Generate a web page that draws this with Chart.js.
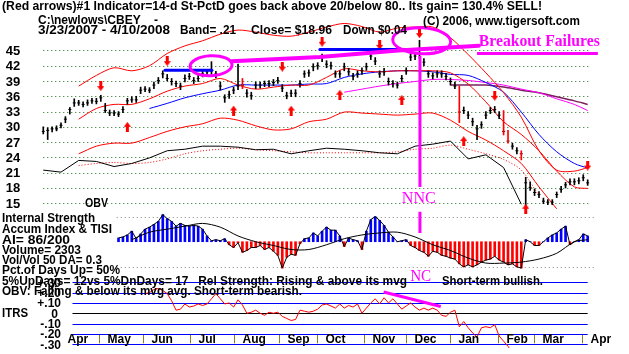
<!DOCTYPE html>
<html>
<head>
<meta charset="utf-8">
<script src="https://cdn.jsdelivr.net/npm/chart.js@4.4.1/dist/chart.umd.min.js"></script>
<style>
  html, body { margin: 0; padding: 0; background: #fff; }
  #wrap { position: relative; width: 629px; height: 354px; }
</style>
</head>
<body>
<div id="wrap"><canvas id="c" width="629" height="354"></canvas></div>
<script>
// ---- CBEY 3/23/2007 - 4/10/2008, one sample every ~2 trading days ----
var closes = [29.1,29.3,29.6,29.6,30.3,31.5,33.4,34.7,34.7,34.4,
              34.7,35.1,35.0,35.7,33.2,32.7,32.7,32.5,33.4,35.1,
              35.3,35.3,37.2,37.4,37.2,38.2,39.1,40.4,39.5,38.9,
              38.5,38.0,39.5,39.9,39.1,39.5,40.4,40.8,41.0,40.4,
              38.0,35.7,36.3,37.2,38.0,38.2,36.6,36.1,38.2,38.2,
              38.5,38.5,38.7,39.1,37.6,36.1,36.6,36.6,38.5,40.4,
              40.6,41.8,42.0,43.7,42.3,42.0,40.4,40.4,41.8,40.8,
              39.9,40.4,41.0,41.8,43.9,42.9,40.4,40.8,38.9,38.5,
              38.2,39.5,41.0,43.7,43.9,44.2,42.7,40.4,40.0,40.4,
              40.4,39.9,38.9,38.0,32.9,33.2,32.3,31.0,29.6,30.4,
              32.3,33.2,33.4,32.3,29.1,27.2,26.2,25.3,24.7,19.0,
              18.1,17.1,16.7,15.4,15.2,15.2,16.7,17.7,18.6,19.2,
              19.2,19.4,20.0,19.0];
var lows = [28.6,27.5,29.0,29.2,29.8,30.8,32.5,34.0,34.2,33.9,
            34.2,34.6,34.5,35.0,32.8,32.2,32.2,32.0,32.8,34.4,
            34.8,34.8,36.5,36.9,36.7,37.5,38.5,39.6,39.0,38.2,
            37.9,37.3,38.8,39.3,38.5,38.9,39.8,40.2,40.3,39.6,
            37.2,34.8,35.6,36.5,37.3,37.5,35.8,35.4,37.5,37.6,
            37.9,37.9,38.1,38.5,36.9,35.5,35.9,35.9,37.8,39.7,
            39.9,41.0,41.3,42.8,41.6,41.3,39.7,39.7,41.0,40.1,
            39.2,39.7,40.3,41.1,43.2,42.2,39.7,40.1,38.2,37.8,
            37.6,38.8,40.3,43.0,43.2,43.5,42.0,39.7,39.4,39.7,
            39.7,39.2,38.2,37.5,30.8,32.6,31.6,30.2,27.5,29.7,
            31.6,32.6,32.8,31.6,28.4,26.8,25.6,24.7,23.5,13.9,
            17.5,16.5,16.1,14.9,14.7,14.7,16.1,17.1,18.0,18.6,
            18.6,18.8,19.4,18.5];
var highs = [30.0,29.8,30.0,30.2,30.8,32.0,33.8,35.5,35.2,34.9,
             35.3,35.6,35.6,36.2,34.6,33.3,33.2,33.0,34.0,35.6,
             35.9,36.0,37.8,37.9,37.7,38.8,39.7,41.0,40.3,39.5,
             39.0,38.6,40.2,40.5,39.7,40.1,41.0,41.3,42.8,40.9,
             38.8,36.3,37.0,37.8,42.3,39.5,37.3,36.8,38.8,38.8,
             39.0,39.1,39.3,39.7,38.3,36.8,37.2,37.3,39.1,41.0,
             41.2,42.4,42.6,44.3,43.0,42.7,41.0,41.0,42.5,41.5,
             40.5,41.0,41.6,42.5,44.6,43.6,41.0,41.5,39.6,39.1,
             38.8,40.1,41.6,44.4,44.6,47.0,43.4,41.0,40.6,41.0,
             41.0,40.5,39.6,38.8,38.0,33.9,33.0,31.7,30.3,31.0,
             33.0,33.8,34.0,33.0,33.2,29.3,26.8,25.9,25.3,20.1,
             19.2,17.8,17.3,16.0,15.7,15.7,17.2,18.3,19.1,19.8,
             19.8,20.0,20.6,19.6];
var redBars = [45, 94, 104, 105, 108];

// sample positions where the smooth lines were read
var knots = [0,4,8,12,16,20,24,28,32,36,40,44,48,52,56,60,64,68,72,76,80,84,88,92,96,100,104,108,112,116,120,123];
var upperBand = [null,null,38.0,40.1,41.6,41.0,42.0,44.4,45.9,46.9,48.2,49.0,48.6,48.0,47.8,48.6,
                 49.6,50.3,49.7,48.6,49.4,49.6,49.6,47.5,44.2,40.6,36.7,31.9,25.3,21.5,21.3,22.0];
var midBand = [null,null,31.5,33.6,34.4,34.4,35.5,37.0,38.0,38.5,39.5,38.2,37.4,37.8,38.2,38.2,
               39.7,41.4,41.0,40.8,41.0,41.0,41.0,40.6,38.4,34.9,31.0,28.5,25.3,21.3,18.2,17.9];
var lowerBand = [null,null,24.7,26.2,26.8,26.8,27.9,29.1,30.0,30.6,31.7,31.3,30.2,29.4,29.6,31.0,
                 31.5,32.9,32.7,32.5,32.3,32.5,32.7,31.3,29.1,27.4,25.3,22.8,18.2,13.9,null,null];
var ma50 = [null,null,null,null,null,null,33.6,34.6,35.7,36.5,37.2,38.2,38.2,38.2,38.2,38.4,
            38.5,39.7,40.4,40.8,41.0,41.0,40.8,40.3,40.1,38.7,36.8,32.9,28.5,25.1,22.8,21.9];
var ma200 = [null,null,null,null,null,null,null,null,null,null,null,null,null,null,null,null,
             null,36.8,37.4,38.0,38.5,38.9,39.3,39.3,39.1,38.7,38.2,37.4,36.7,35.5,34.4,33.2];
var ma65 = [null,null,null,null,null,null,null,null,null,null,null,null,null,null,null,null,
            null,null,null,null,null,null,null,38.2,38.2,38.2,37.8,37.2,36.7,35.9,35.1,34.4];
var obv = [21.5,21.1,23.4,23.2,22.2,22.8,23.9,25.3,25.6,26.2,26.2,26.0,25.5,25.6,24.7,25.3,
           25.8,25.6,25.3,24.9,24.7,26.2,26.6,27.2,23.7,24.5,22.0,14.8,null,null,null,null];
var obvMa = [null,null,22.4,22.8,23.0,22.8,23.0,23.7,24.7,25.3,25.6,25.8,25.5,25.3,25.1,24.9,
             24.9,24.9,24.9,24.9,25.1,25.6,25.8,26.4,25.6,24.7,23.6,21.5,16.5,null,null,null];

// Accumulation index per sample, and its moving average at the knots
var accum = [null,null,null,null,null,null,null,null,null,null,null,null,null,null,null,null,null,
             1.5,1.9,2.7,4.2,1.2,3.1,5.0,5.8,6.9,8.1,10.8,9.2,8.1,6.2,7.3,6.5,6.2,6.5,6.2,5.0,
             2.3,0.4,0.8,0.4,1.2,-1.2,-2.3,-0.4,-4.2,-3.5,-2.3,-2.3,-1.5,-3.1,-2.3,-3.8,-5.4,-10.5,
             -6.2,-5.0,-5.4,-0.8,1.2,1.5,3.5,2.3,4.2,5.8,4.6,4.6,2.3,-1.9,1.5,0.8,0.4,-3.1,4.2,8.8,
             10.0,8.5,6.5,3.8,1.9,0.0,0.4,0.8,-1.5,-2.3,-3.5,-4.2,-5.8,-3.8,-4.2,-5.4,-5.8,-6.5,
             -6.9,-8.8,-10.0,-9.2,-10.0,-9.2,-8.1,-7.3,-6.9,-5.8,-7.3,-8.1,-9.2,-8.8,-10.0,-10.5,
             0.8,0.0,-1.5,-1.5,0.0,1.5,2.7,3.5,5.0,6.2,-1.2,0.0,0.8,3.1,2.3];
var accumMa = [null,null,null,null,null,0.8,3.8,5.0,6.2,7.3,5.8,2.3,0.0,-1.5,-3.1,-3.1,
               -1.2,1.2,2.7,3.5,3.8,1.9,-1.2,-3.5,-6.5,-8.5,-8.5,-8.1,-6.9,-4.6,0.0,0.8];

// ITRS (relative strength) per sample
var itrs = [null,null,null,null,null,null,null,null,null,null,null,null,null,null,null,null,
            null,null,null,null,null,null,null,
            0.19,0.20,0.23,0.24,0.22,0.19,0.12,0.03,0.04,0.09,
            0.06,0.07,0.09,0.075,0.09,0.14,0.19,0.14,0.09,0.10,
            0.06,0.13,0.08,0.0,0.01,0.03,0.0,-0.02,0.01,0.0,
            0.01,-0.03,-0.05,-0.07,-0.06,0.03,0.02,0.01,0.02,0.04,
            0.08,0.09,0.07,0.05,0.09,0.05,0.075,0.06,0.09,0.0,
            0.05,0.10,0.14,0.09,0.15,0.10,0.14,0.09,0.04,0.07,
            0.10,0.06,0.03,0.05,0.03,0.05,0.03,-0.02,-0.03,0.01,
            0.03,-0.13,-0.08,-0.14,-0.19,-0.23,-0.14,-0.13,-0.14,-0.11,
            -0.22,-0.27,-0.32,-0.38];

// signal arrows (sample, price)
var sellIdx = [13, 28, 54, 63, 76, 85, 102, 123];
var sellAt  = [38.0, 42.9, 41.8, 46.7, 46.1, 48.4, 36.1, 22.4];
var buyIdx  = [19, 43, 56, 67, 81, 95, 109];
var buyAt   = [30.0, 33.2, 33.2, 36.3, 35.3, 27.2, 13.9];

var priceTicks = [45, 42, 39, 36, 33, 30, 27, 24, 21, 18, 15];
var accumGrid = [10, -10];
var itrsTicks = [0.3, 0.2, 0.1, 0, -0.1, -0.2, -0.3];
var itrsLabels = ['+.30', '+.20', '+.10', '0', '-.10', '-.20', '-.30'];
var months = ['Apr','May','Jun','Jul','Aug','Sep','Oct','Nov','Dec','Jan','Feb','Mar','Apr'];
var monthStart = [2.7, 12.6, 22.6, 33.2, 43.2, 53.2, 61.8, 72.5, 82.0, 91.8, 102.8, 110.8, 121.7];

var infoLines = [
  'Internal Strength',
  'Accum Index & TISI',
  'AI= 86/200',
  'Volume= 2303',
  'Vol/Vol 50 DA= 0.3',
  'Pct.of Days Up= 50%',
  '5%UpDays= 12vs 5%DnDays= 17   Rel Strength: Rising & above its mvg',
  'OBV: Falling & below its mvg avg. Short-term bearish.'
];

function knotPts(arr) {
  return knots.map(function (k, j) { return { x: k, y: arr[j] }; });
}
function seriesPts(arr) {
  return arr.map(function (v, i) { return { x: i, y: v }; });
}

function arrowImg(up) {
  var c = document.createElement('canvas');
  c.width = 7; c.height = 10;
  var g = c.getContext('2d');
  g.fillStyle = '#ff0000';
  g.beginPath();
  if (up) {
    g.moveTo(3.5, 0); g.lineTo(7, 5); g.lineTo(0, 5);
    g.closePath(); g.fill(); g.fillRect(2, 4, 3, 6);
  } else {
    g.fillRect(2, 0, 3, 6);
    g.moveTo(0, 5); g.lineTo(7, 5); g.lineTo(3.5, 10);
    g.closePath(); g.fill();
  }
  return c;
}

function fitText(ctx, txt, x, y, w, font, color) {
  ctx.font = font;
  ctx.fillStyle = color || '#000';
  ctx.textAlign = 'left';
  ctx.textBaseline = 'middle';
  var m = ctx.measureText(txt).width;
  ctx.save();
  ctx.translate(x, y);
  ctx.scale(w / m, 1);
  ctx.fillText(txt, 0, 0);
  ctx.restore();
}

function hline(ctx, x1, x2, y) {
  ctx.beginPath(); ctx.moveTo(x1, y); ctx.lineTo(x2, y); ctx.stroke();
}

var BOLD = 'bold 12px "Liberation Sans", Arial, sans-serif';
var SERIF = 'bold 16px "Liberation Serif", "Times New Roman", serif';

var tiger = {
  id: 'tiger',
  beforeDraw: function (chart) {
    var ctx = chart.ctx;
    ctx.save();
    ctx.fillStyle = '#fff';
    ctx.fillRect(0, 0, chart.width, chart.height);
    ctx.restore();
  },
  beforeDatasetsDraw: function (chart) {
    var ctx = chart.ctx, s = chart.scales;
    ctx.save();
    ctx.lineWidth = 1;
    ctx.setLineDash([1, 3]);
    ctx.strokeStyle = '#1e6b1e';
    priceTicks.forEach(function (v) {
      var y = Math.round(s.y.getPixelForValue(v)) + 0.5;
      hline(ctx, s.x.getPixelForValue(0), s.x.getPixelForValue(123.5), y);
    });
    ctx.strokeStyle = '#8a8a8a';
    accumGrid.forEach(function (v) {
      var y = Math.round(s.yA.getPixelForValue(v)) + 0.5;
      hline(ctx, s.x.getPixelForValue(16.6), s.x.getPixelForValue(124.6), y);
    });
    ctx.setLineDash([]);
    itrsTicks.forEach(function (v) {
      var y = Math.round(s.yI.getPixelForValue(v)) + 0.5;
      ctx.strokeStyle = v === 0 ? '#000' : '#0000ff';
      hline(ctx, s.x.getPixelForValue(6.6), s.x.getPixelForValue(123), y);
    });
    ctx.restore();
  },
  afterDatasetsDraw: function (chart) {
    var ctx = chart.ctx, s = chart.scales;
    function px(i) { return s.x.getPixelForValue(i); }
    function py(v) { return s.y.getPixelForValue(v); }
    ctx.save();

    // hand-drawn annotations
    ctx.lineCap = 'round';
    ctx.strokeStyle = '#0000ff';
    ctx.lineWidth = 3;
    hline(ctx, px(27.5), px(38.1), py(41.1));
    hline(ctx, px(62.5), px(85.1), py(45.2));

    ctx.strokeStyle = '#ff00ff';
    ctx.lineWidth = 3;
    ctx.beginPath();
    ctx.ellipse(px(37.9), py(42.0), 21, 10, -0.05, 0, Math.PI * 2);
    ctx.stroke();
    ctx.beginPath();
    ctx.ellipse(px(85.5), py(46.9), 29, 13, 0.05, 0, Math.PI * 2);
    ctx.stroke();
    ctx.lineWidth = 4;
    ctx.beginPath();
    ctx.moveTo(px(42.6), py(42.9));
    ctx.lineTo(px(62.5), py(43.7));
    ctx.lineTo(px(80.2), py(45.0));
    ctx.lineTo(px(98.4), py(45.9));
    ctx.stroke();
    ctx.lineWidth = 3;
    ctx.lineCap = 'butt';
    ctx.beginPath();
    ctx.moveTo(px(85.1), py(43.9)); ctx.lineTo(px(85.1), py(18.2));
    ctx.moveTo(px(85.1), s.yA.getPixelForValue(11.9)); ctx.lineTo(px(85.1), s.yA.getPixelForValue(3.5));
    ctx.stroke();
    ctx.beginPath();
    ctx.moveTo(px(76.9), s.yI.getPixelForValue(0.206));
    ctx.lineTo(px(89.8), s.yI.getPixelForValue(0.065));
    ctx.stroke();
    hline(ctx, px(98.0), px(125.3), py(44.4));
    fitText(ctx, 'Breakout Failures', px(98.4), py(46.6), 121, SERIF, '#ff00ff');
    fitText(ctx, 'NNC', px(81.0), py(16.0), 34, 'normal 17px "Liberation Serif", serif', '#ff00ff');
    fitText(ctx, 'NC', px(82.9), s.yI.getPixelForValue(0.36), 21, 'normal 17px "Liberation Serif", serif', '#ff00ff');

    // header
    fitText(ctx, '(Red arrows)#1 Indicator=14-d St-PctD goes back above 20/below 80.. Its gain= 130.4% SELL!', 2, 7, 540, BOLD);
    fitText(ctx, 'C:\\newlows\\CBEY    -', 38, 21, 120, BOLD);
    fitText(ctx, '(C) 2006, www.tigersoft.com', 423, 22, 157, BOLD);
    fitText(ctx, '3/23/2007 - 4/10/2008', 38, 31, 132, BOLD);
    fitText(ctx, 'Band= .21', 180, 31, 56, BOLD);
    fitText(ctx, 'Close= $18.96', 251, 31, 81, BOLD);
    fitText(ctx, 'Down $0.04', 343, 31, 64, BOLD);

    // price axis labels
    ctx.font = 'bold 13px "Liberation Sans", Arial, sans-serif';
    ctx.fillStyle = '#000';
    ctx.textAlign = 'center';
    ctx.textBaseline = 'middle';
    priceTicks.forEach(function (v) { ctx.fillText(String(v), 13, py(v) + 1); });
    fitText(ctx, 'OBV', 85, 203, 23, 'bold 13px "Liberation Sans", Arial, sans-serif');

    // ITRS labels
    ctx.font = BOLD;
    ctx.textAlign = 'right';
    ctx.fillStyle = '#000';
    itrsTicks.forEach(function (v, k) {
      ctx.fillText(itrsLabels[k], v === 0 ? 58 : 61, s.yI.getPixelForValue(v) + 1);
    });
    fitText(ctx, 'ITRS', 2, s.yI.getPixelForValue(0), 26, BOLD);

    // info block
    var infoW = [93, 110, 68, 79, 100, 118, 405, 300];
    var infoY = [219, 230, 241, 251, 261, 271, 282, 292];
    infoLines.forEach(function (t, k) { fitText(ctx, t, 2, infoY[k], infoW[k], BOLD); });
    fitText(ctx, 'Short-term bullish.', 442, 282, 101, BOLD);

    // month axis
    var yTop = s.yI.getPixelForValue(-0.2), yBot = s.yI.getPixelForValue(-0.3);
    ctx.strokeStyle = '#8a7a2a';
    ctx.lineWidth = 1;
    ctx.font = BOLD;
    ctx.textAlign = 'left';
    ctx.fillStyle = '#000';
    months.forEach(function (m, k) {
      var x = Math.round(px(monthStart[k])) + 0.5;
      if (k > 0) {
        ctx.beginPath(); ctx.moveTo(x, yTop + 1); ctx.lineTo(x, yBot - 1); ctx.stroke();
      }
      ctx.fillText(m, x + (k === 0 ? 12 : 8), (yTop + yBot) / 2 + 1);
    });
    ctx.restore();
  }
};

var priceBars = closes.map(function (c, i) { return { x: i, y: [lows[i], highs[i]] }; });

new Chart(document.getElementById('c'), {
  type: 'bar',
  data: {
    datasets: [
      { type: 'scatter', order: 0, yAxisID: 'y',
        data: sellIdx.map(function (x, k) { return { x: x, y: sellAt[k] }; }),
        pointStyle: arrowImg(false), pointRadius: 5 },
      { type: 'scatter', order: 0, yAxisID: 'y',
        data: buyIdx.map(function (x, k) { return { x: x, y: buyAt[k] }; }),
        pointStyle: arrowImg(true), pointRadius: 5 },
      { type: 'bar', order: 1, yAxisID: 'y', data: priceBars, grouped: false,
        barThickness: 1,
        backgroundColor: function (c) { return redBars.indexOf(c.dataIndex) >= 0 ? '#ff0000' : '#000'; } },
      { type: 'scatter', order: 1, yAxisID: 'y', data: seriesPts(closes),
        pointStyle: 'line', pointRadius: 1.5, borderColor: '#000', borderWidth: 1 },
      { type: 'line', order: 2, yAxisID: 'y', data: knotPts(upperBand), borderColor: '#ff0000',
        borderWidth: 1, pointRadius: 0, tension: 0.3 },
      { type: 'line', order: 2, yAxisID: 'y', data: knotPts(midBand), borderColor: '#ff0000',
        borderWidth: 1, pointRadius: 0, tension: 0.3 },
      { type: 'line', order: 2, yAxisID: 'y', data: knotPts(lowerBand), borderColor: '#ff0000',
        borderWidth: 1, pointRadius: 0, tension: 0.3 },
      { type: 'line', order: 2, yAxisID: 'y', data: knotPts(ma50), borderColor: '#0000ff',
        borderWidth: 1, pointRadius: 0, tension: 0.3 },
      { type: 'line', order: 2, yAxisID: 'y', data: knotPts(ma200), borderColor: '#ff00ff',
        borderWidth: 1, pointRadius: 0, tension: 0.3 },
      { type: 'line', order: 2, yAxisID: 'y', data: knotPts(ma65), borderColor: '#7a1f5c',
        borderWidth: 1.5, pointRadius: 0, tension: 0.3 },
      { type: 'line', order: 3, yAxisID: 'y', data: knotPts(obv), borderColor: '#000',
        borderWidth: 1, pointRadius: 0, tension: 0 },
      { type: 'line', order: 3, yAxisID: 'y', data: knotPts(obvMa), borderColor: '#ff0000',
        borderWidth: 1, borderDash: [1, 2], pointRadius: 0, tension: 0.3 },
      { type: 'line', order: 4, yAxisID: 'yA', data: knotPts(accumMa), borderColor: '#000',
        borderWidth: 1, pointRadius: 0, tension: 0.3 },
      { type: 'line', order: 4, yAxisID: 'yA', data: seriesPts(accum), borderColor: '#000',
        borderWidth: 1, pointRadius: 0, tension: 0 },
      { type: 'bar', order: 5, yAxisID: 'yA', data: seriesPts(accum), grouped: false,
        barThickness: 2,
        backgroundColor: function (c) { return c.raw && c.raw.y >= 0 ? '#0000ff' : '#ff0000'; } },
      { type: 'line', order: 4, yAxisID: 'yI', data: seriesPts(itrs), borderColor: '#ff0000',
        borderWidth: 1, pointRadius: 0, tension: 0 }
    ]
  },
  options: {
    responsive: false,
    animation: false,
    events: [],
    layout: { padding: 0 },
    plugins: { legend: { display: false }, tooltip: { enabled: false } },
    scales: {
      x:  { type: 'linear', min: -8.42, max: 130.98, offset: false, display: false },
      y:  { type: 'linear', min: -13.44, max: 53.73, display: false },
      yA: { type: 'linear', min: -42.31, max: 93.85, display: false },
      yI: { type: 'linear', min: -0.336, max: 2.972, display: false }
    }
  },
  plugins: [tiger]
});
</script>
</body>
</html>
